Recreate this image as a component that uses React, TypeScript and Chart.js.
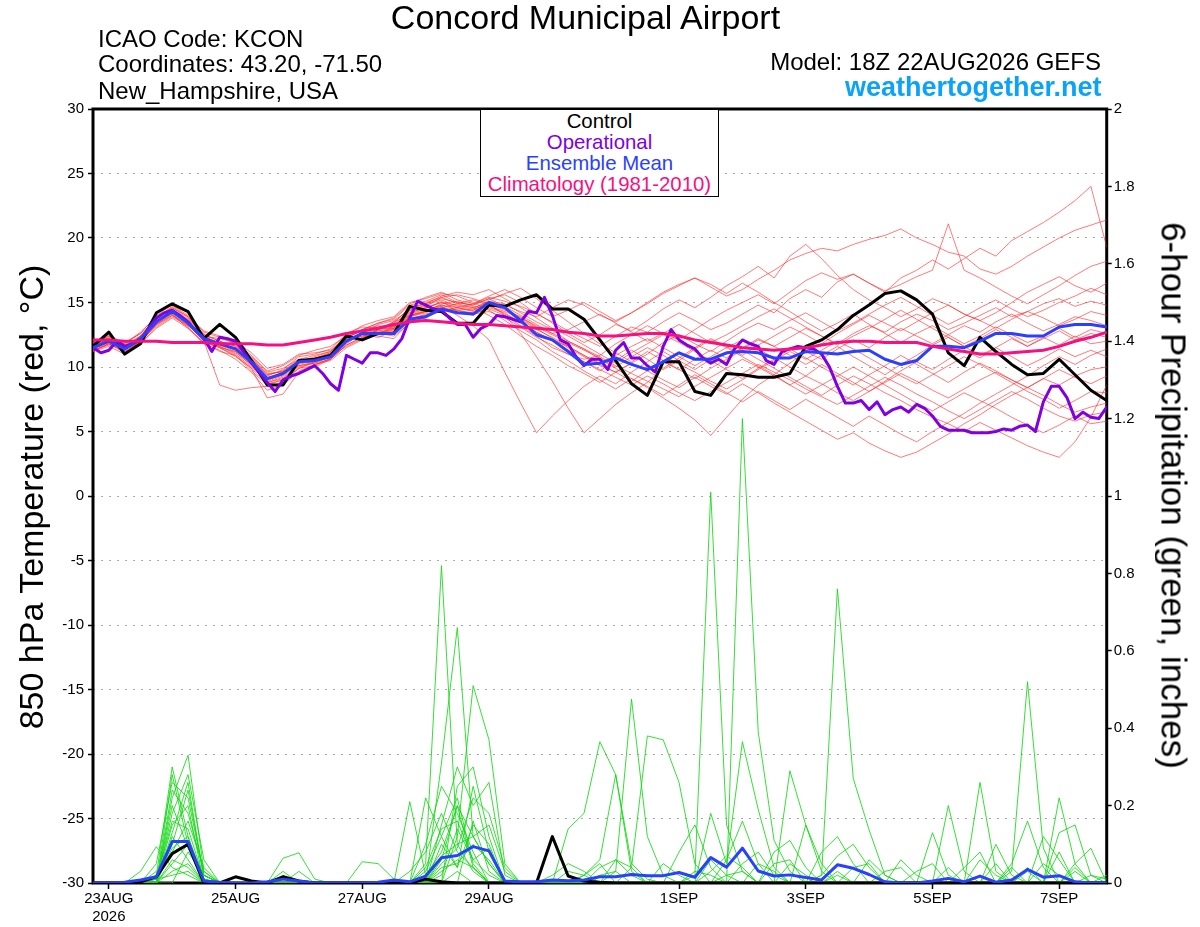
import React, { useEffect, useRef } from 'react';
import { Chart, registerables } from 'chart.js';

Chart.register(...registerables);

const FONT = "'Liberation Sans', Arial, Helvetica, sans-serif";

// ---------- axes ----------
const STEP_HOURS = 6;
const OPER_STEP_HOURS = 3;
const X_MAX_HOURS = 384;
const X_TICK_HOURS = [6, 54, 102, 150, 222, 270, 318, 366];
const X_TICK_LABELS: (string | string[])[] = [['23AUG', '2026'], '25AUG', '27AUG', '29AUG', '1SEP', '3SEP', '5SEP', '7SEP'];

// ---------- 850 hPa temperature (°C), 6-hourly ----------
const CONTROL_T = [11.6,12.7,11.0,11.8,14.2,14.9,14.3,12.2,13.3,12.3,10.5,8.6,8.6,10.5,10.6,10.9,12.4,12.1,12.6,12.6,14.7,14.4,14.3,13.4,13.4,14.8,14.7,15.2,15.6,14.5,14.5,13.7,12.1,10.5,8.7,7.8,10.4,10.4,8.1,7.8,9.5,9.4,9.2,9.2,9.5,11.6,12.1,12.9,14.0,14.8,15.7,15.9,15.2,14.1,11.1,10.1,12.3,11.2,10.2,9.4,9.5,10.6,9.4,8.2,7.4];
const MEAN_T = [11.5,12.0,11.4,12.2,13.5,14.3,13.4,12.2,11.8,11.4,10.4,9.1,9.5,10.4,10.5,10.8,12.0,12.6,12.6,12.6,13.7,13.9,14.5,14.2,14.1,15.0,14.6,13.6,12.5,12.1,11.2,10.2,10.3,10.7,10.2,9.8,10.4,11.1,10.6,10.6,11.1,11.2,11.1,10.7,10.7,11.2,11.1,11.0,11.2,11.3,10.6,10.2,10.5,11.6,11.6,11.5,12.0,12.6,12.6,12.4,12.4,13.1,13.3,13.3,13.1];
const CLIMO_T = [12.1,12.1,12.0,12.0,12.0,11.9,11.9,11.9,11.8,11.8,11.8,11.7,11.7,11.9,12.1,12.3,12.6,12.8,13.0,13.3,13.5,13.6,13.5,13.4,13.3,13.3,13.2,13.1,13.0,12.9,12.7,12.6,12.4,12.4,12.5,12.6,12.6,12.4,12.1,11.9,11.7,11.5,11.4,11.3,11.4,11.5,11.7,11.9,12.0,12.0,11.9,11.9,11.9,11.6,11.4,11.2,11.0,11.0,11.1,11.2,11.3,11.6,12.0,12.3,12.7];
// operational run, 3-hourly
const OPER_T = [11.5,11.1,11.3,12.0,11.6,11.8,12.1,13.0,13.8,14.2,14.4,14.0,13.5,12.8,12.2,11.2,12.3,12.2,12.0,11.2,10.3,9.6,8.8,8.1,9.0,9.3,9.5,9.8,10.1,9.5,8.7,8.2,10.9,10.6,10.3,11.1,11.1,10.9,11.4,12.2,13.8,15.1,14.8,14.5,14.4,13.8,13.3,13.3,12.3,13.0,13.3,14.0,13.9,13.7,13.5,14.3,14.2,15.4,14.0,12.1,11.8,10.8,10.1,10.6,10.6,9.8,11.3,11.9,10.7,10.7,10.1,9.6,11.6,12.9,12.1,11.7,11.4,10.7,10.3,10.6,10.2,11.4,12.1,11.8,11.6,10.5,10.2,11.2,11.4,11.6,11.5,11.4,11.0,10.0,8.5,7.2,7.2,7.4,6.7,7.3,6.3,6.7,6.9,6.5,7.1,6.8,6.2,5.4,5.1,5.1,5.1,4.9,4.9,4.9,5.0,5.2,5.1,5.4,5.5,5.0,7.3,8.5,8.5,7.6,6.0,6.5,6.1,6.0,6.9];

// ensemble members, 6-hourly
const MEMBER_T_01 = [11.7,12.4,11.5,12.4,13.8,14.7,13.9,12.5,12.0,11.6,10.6,9.3,9.8,10.8,11.0,11.4,12.6,13.1,13.0,13.4,14.6,14.9,15.3,15.0,14.8,15.3,15.6,15.0,14.1,13.5,12.8,12.2,11.6,12.4,13.1,12.7,13.5,14.2,13.6,12.9,13.4,14.1,14.8,14.2,15.3,16.0,15.4,16.6,17.2,16.5,15.8,16.9,17.5,18.3,17.6,18.4,19.2,18.6,19.8,20.5,21.2,22.0,22.9,24.0,19.3];
const MEMBER_T_02 = [11.3,11.8,11.2,12.0,13.2,14.0,13.1,11.9,11.5,11.2,10.1,8.8,9.2,10.1,10.4,10.9,12.2,12.9,13.2,13.1,14.2,14.6,15.0,14.8,14.6,15.0,14.8,14.3,13.9,14.6,15.2,14.8,14.0,13.5,14.2,15.0,15.8,16.4,16.9,16.2,15.5,16.0,16.8,17.5,18.3,18.8,19.2,19.0,19.5,19.9,20.2,20.7,20.0,19.5,18.9,18.6,17.6,17.2,17.8,18.6,19.3,20.0,20.6,21.0,21.4];
const MEMBER_T_03 = [11.9,12.1,11.8,12.6,13.6,14.1,13.2,12.4,12.2,11.9,10.9,9.6,9.9,10.6,10.2,10.6,11.7,12.3,12.9,13.5,14.0,14.3,14.9,15.1,14.7,14.5,14.0,13.2,12.4,11.5,11.0,10.6,10.9,11.8,12.5,13.2,12.6,12.1,12.9,13.7,14.4,15.0,15.6,14.9,15.8,16.7,17.3,16.8,17.2,16.5,15.9,16.4,17.0,17.5,21.1,17.5,16.9,16.2,15.5,14.9,15.6,16.3,17.1,17.8,18.2];
const MEMBER_T_04 = [11.2,11.6,11.0,11.9,13.3,14.2,13.6,12.0,8.6,8.2,8.4,8.5,8.8,9.9,10.1,10.7,11.9,12.7,12.4,12.2,13.5,13.8,14.4,14.6,14.9,15.4,15.1,14.7,14.2,13.4,12.6,11.9,12.5,13.3,12.8,13.6,14.5,15.2,14.6,15.4,16.3,17.0,17.8,16.9,18.6,19.5,18.4,17.1,16.0,15.2,14.6,13.9,14.5,15.3,14.8,14.1,13.6,14.2,15.0,15.8,16.4,17.0,16.3,15.8,16.5];
const MEMBER_T_05 = [11.6,12.2,11.3,12.1,13.4,14.5,13.5,12.3,11.7,11.5,10.6,9.4,9.7,10.5,10.7,11.1,12.1,12.4,12.8,13.0,14.1,14.5,15.1,14.3,14.0,14.7,14.3,13.8,13.0,12.2,11.5,10.8,10.1,9.6,10.3,11.0,11.9,12.5,11.8,11.2,12.0,12.8,13.4,12.9,13.6,14.2,13.5,12.8,13.4,14.1,14.8,15.4,14.7,14.0,13.3,13.9,14.6,15.2,14.5,13.9,14.4,15.0,15.5,16.1,15.6];
const MEMBER_T_06 = [11.4,11.9,11.6,12.3,13.7,14.4,13.3,12.1,11.9,11.3,10.2,9.0,9.4,10.3,10.6,10.9,12.0,12.5,12.3,12.8,13.9,14.2,14.7,14.0,13.2,12.1,9.6,7.2,4.9,6.2,7.4,8.5,9.3,8.7,9.6,10.4,11.2,10.5,9.8,10.6,11.0,11.4,12.1,11.6,12.3,13.0,12.4,11.8,12.6,13.2,12.7,13.5,14.1,13.6,12.9,13.4,14.0,14.6,13.9,14.3,14.9,15.3,14.7,15.1,14.8];
const MEMBER_T_07 = [11.9,12.5,11.7,12.2,13.5,14.3,13.7,12.6,11.5,10.8,9.9,7.6,7.9,9.6,10.0,10.6,11.8,12.6,13.3,13.6,14.4,14.7,15.4,15.6,15.3,14.9,14.0,12.6,10.8,8.9,6.8,4.9,6.0,7.1,8.0,8.8,9.9,10.7,11.5,12.2,11.6,10.9,11.7,12.4,13.1,12.5,11.8,12.6,13.3,14.0,13.4,12.8,13.5,14.2,14.8,14.1,13.6,13.0,13.7,14.3,13.8,13.2,13.7,14.3,14.0];
const MEMBER_T_08 = [11.5,12.0,11.1,11.8,13.1,13.9,13.2,12.2,11.6,11.0,10.0,8.9,9.3,10.2,10.5,11.0,12.3,12.8,12.5,12.9,13.8,14.0,14.3,14.5,14.4,15.1,14.9,14.2,13.5,12.9,12.0,11.4,10.6,9.9,9.1,8.4,7.6,6.8,5.9,4.7,6.1,7.5,8.6,9.4,10.3,11.2,10.6,11.4,12.1,11.5,12.3,13.0,12.4,11.8,12.5,13.2,12.7,13.5,14.1,13.4,12.8,13.3,13.9,13.6,13.2];
const MEMBER_T_09 = [11.6,11.9,11.4,12.4,13.6,14.2,13.4,12.3,11.9,11.7,10.8,9.7,10.1,10.9,11.3,11.6,12.4,12.9,13.4,13.8,14.9,15.4,15.8,15.2,14.9,15.5,16.0,15.4,14.6,13.9,14.4,15.0,14.3,13.6,14.2,14.9,15.7,16.3,16.9,16.4,15.7,16.5,15.8,15.0,14.3,13.5,12.8,13.4,14.1,13.3,12.6,11.9,12.6,13.2,12.5,11.8,12.4,13.1,12.5,11.9,12.4,13.0,12.3,12.9,12.6];
const MEMBER_T_10 = [11.3,11.7,11.5,12.1,13.3,14.1,13.0,11.8,11.3,10.6,9.6,8.2,8.6,9.7,10.2,10.5,11.5,12.1,12.6,12.4,13.4,13.9,14.6,14.9,15.2,14.8,14.1,13.5,12.7,12.0,11.3,10.4,9.7,10.5,11.3,10.6,9.8,10.5,11.4,12.1,11.5,10.8,10.1,9.4,8.6,9.3,10.2,9.5,8.8,8.1,8.9,9.7,10.4,9.8,10.6,11.3,10.7,11.5,12.2,11.6,12.3,11.7,12.4,11.8,12.0];
const MEMBER_T_11 = [11.8,12.2,11.9,12.6,14.0,14.8,14.0,12.7,12.3,11.8,10.7,9.5,9.6,10.4,10.8,11.2,12.5,13.2,13.6,13.9,15.0,15.3,15.7,15.5,15.0,14.4,13.6,12.8,12.1,11.2,10.5,9.7,9.0,8.3,9.1,8.5,7.8,8.6,9.4,8.7,8.0,7.3,8.1,7.4,6.7,7.5,6.8,6.1,5.4,6.2,5.5,4.8,4.2,5.0,5.7,6.4,7.2,7.9,8.6,9.3,10.1,10.8,10.2,10.9,11.4];
const MEMBER_T_12 = [11.5,12.1,11.3,12.3,13.5,14.4,13.6,12.4,11.8,11.4,10.3,9.1,9.5,10.4,10.5,10.9,12.0,12.7,12.5,13.2,14.3,14.8,15.2,14.7,14.5,15.2,15.7,16.1,15.3,14.4,13.5,12.6,11.8,11.1,10.4,11.2,10.5,9.8,10.6,11.3,10.7,11.5,12.2,11.6,10.9,10.2,10.9,11.6,10.8,10.1,9.4,10.2,10.9,11.7,12.3,11.6,10.9,11.5,10.8,10.1,10.7,11.4,10.8,11.3,10.8];
const MEMBER_T_13 = [11.2,11.8,11.4,11.8,13.0,13.8,13.0,11.9,11.2,10.9,9.7,8.6,9.0,10.0,10.3,10.8,11.6,12.2,12.9,13.5,14.5,15.0,15.4,14.9,14.6,14.0,13.3,12.4,11.6,10.9,10.1,9.5,8.8,9.6,10.3,9.7,9.0,8.4,9.2,8.5,7.9,8.7,8.0,7.2,6.5,5.8,5.1,4.4,4.9,4.1,3.5,3.0,3.4,4.1,4.8,5.6,6.3,7.1,7.8,8.4,9.1,8.6,9.3,9.8,10.0];
const MEMBER_T_14 = [11.7,12.3,11.8,12.7,13.9,14.6,13.9,12.8,12.4,12.0,11.1,9.9,10.2,11.0,11.1,11.3,12.3,12.8,13.1,13.3,14.4,14.9,15.5,15.8,15.6,16.0,15.3,14.6,13.8,13.0,12.4,11.7,11.0,10.3,11.1,11.8,12.5,11.9,11.2,10.5,9.8,9.1,9.9,10.6,11.4,10.7,10.0,9.3,8.6,9.4,10.1,10.9,10.2,9.5,8.8,9.6,10.3,9.7,9.0,8.4,9.1,9.8,9.2,8.7,9.3];
const MEMBER_T_15 = [11.4,11.9,11.2,12.0,13.4,14.2,13.5,12.2,11.6,11.1,10.2,8.8,9.1,10.1,10.3,10.6,11.7,12.3,12.6,13.0,14.0,14.4,14.8,14.4,14.2,14.8,14.5,13.7,12.9,12.3,11.6,10.9,10.2,9.6,8.9,9.7,10.4,9.8,9.1,9.9,10.6,11.3,10.6,9.9,9.2,8.5,7.8,8.6,9.3,8.7,8.0,7.4,6.7,6.1,5.6,5.0,5.7,5.1,4.5,3.9,3.4,3.0,4.2,6.1,8.6];
const MEMBER_T_16 = [11.6,12.0,11.4,12.2,13.6,14.3,13.3,12.1,11.7,11.2,10.3,9.0,9.4,10.3,10.7,11.0,12.2,12.4,12.7,12.9,13.9,14.3,14.8,14.6,14.3,14.9,14.4,13.9,13.1,12.5,11.9,11.3,10.7,10.0,10.8,11.5,10.9,10.2,9.6,8.9,8.3,9.0,9.8,10.5,11.2,10.6,11.3,12.0,11.4,10.7,10.0,9.3,8.7,9.4,10.1,10.8,10.2,9.5,8.8,8.1,7.5,6.8,7.4,8.1,8.0];
const MEMBER_T_17 = [11.5,12.1,11.6,12.3,13.5,14.2,13.5,12.3,11.8,11.4,10.5,9.2,9.5,10.5,10.6,11.0,12.0,12.7,13.0,13.0,14.0,14.3,14.7,14.2,14.1,14.6,14.2,13.4,12.7,12.1,11.6,10.9,10.3,10.9,11.6,12.2,11.5,10.8,10.1,10.8,11.5,12.1,11.4,10.7,10.0,9.3,8.7,8.0,7.4,8.1,8.8,9.5,8.9,8.2,7.6,8.3,9.0,9.6,9.0,8.4,7.8,7.1,6.5,6.9,7.2];
const MEMBER_T_18 = [11.3,11.8,11.1,12.0,13.3,14.0,13.3,12.0,11.5,10.9,9.9,8.7,9.0,9.9,10.4,10.8,12.1,12.6,12.8,12.7,13.7,14.1,14.5,14.4,14.1,14.3,13.8,13.1,12.3,11.7,11.0,10.4,9.8,9.2,8.6,9.3,8.7,8.0,7.4,8.1,8.8,9.5,10.2,9.6,9.0,8.3,7.7,7.1,7.8,8.5,9.2,8.6,7.9,7.3,6.6,6.0,6.7,7.4,8.1,7.5,6.8,6.2,5.8,6.3,6.5];
const MEMBER_T_19 = [11.8,12.4,11.7,12.4,13.7,14.6,13.8,12.5,12.0,11.6,10.7,9.4,9.7,10.6,10.9,11.2,12.3,12.9,13.4,13.7,14.8,15.1,15.6,15.0,14.8,15.3,14.7,14.0,13.3,12.6,12.0,11.4,10.8,10.1,9.5,8.9,8.3,7.7,8.5,9.2,9.9,10.6,10.0,9.3,8.6,7.9,8.6,9.3,10.0,9.3,8.6,7.9,7.2,6.6,7.3,8.0,7.4,6.8,6.1,5.5,4.9,5.5,6.2,5.6,5.8];
const MEMBER_T_20 = [11.6,12.2,11.5,12.3,13.5,14.3,13.4,12.2,11.8,11.3,10.4,9.1,9.6,10.5,10.6,11.1,12.1,12.6,12.9,13.1,14.2,14.6,15.0,14.6,14.4,15.0,14.6,13.8,13.2,12.6,12.9,13.5,14.1,13.4,12.7,12.0,12.6,13.3,12.6,11.9,12.5,13.2,13.9,14.5,13.8,13.1,12.4,11.7,12.4,13.0,13.7,14.4,13.7,13.0,12.3,11.6,12.2,12.9,12.3,11.6,12.2,12.8,12.1,12.6,12.3];
const MEMBERS_T = [MEMBER_T_01, MEMBER_T_02, MEMBER_T_03, MEMBER_T_04, MEMBER_T_05, MEMBER_T_06, MEMBER_T_07, MEMBER_T_08, MEMBER_T_09, MEMBER_T_10, MEMBER_T_11, MEMBER_T_12, MEMBER_T_13, MEMBER_T_14, MEMBER_T_15, MEMBER_T_16, MEMBER_T_17, MEMBER_T_18, MEMBER_T_19, MEMBER_T_20];

// ---------- 6-hour precipitation (inches) ----------
const CONTROL_P = [0,0,0,0.003,0.016,0.076,0.10,0,0,0.016,0.005,0,0.016,0.005,0,0,0,0,0,0,0,0.01,0.003,0,0,0,0,0,0,0.12,0.018,0.005,0.002,0,0,0,0,0,0,0,0,0,0,0,0,0,0,0,0,0,0,0,0,0,0,0,0,0,0,0,0,0,0,0,0];
const MEAN_P = [0,0,0.002,0.008,0.016,0.107,0.107,0.005,0.002,0,0,0.003,0.01,0.005,0,0,0,0,0.002,0.008,0.003,0.018,0.065,0.071,0.094,0.083,0.005,0.003,0.003,0.008,0.006,0.008,0.016,0.016,0.022,0.019,0.019,0.027,0.015,0.066,0.041,0.09,0.031,0.018,0.021,0.014,0.008,0.047,0.038,0.022,0.003,0,0,0.005,0.012,0.003,0.018,0.002,0.008,0.035,0.015,0.019,0.003,0,0];
// members: [6-hour step index, inches]; steps not listed had no precipitation
const MEMBER_P_01: [number, number][] = [[4,0.02],[5,0.30],[6,0.12],[7,0.01],[21,0.05],[22,0.82],[23,0.10],[24,0.03],[31,0.02],[32,0.05],[39,0.06],[40,0.02],[47,0.03],[59,0.04]];
const MEMBER_P_02: [number, number][] = [[5,0.22],[6,0.33],[7,0.03],[22,0.31],[23,0.66],[24,0.12],[25,0.05],[38,0.02],[39,1.01],[40,0.15],[41,0.03],[53,0.13],[54,0.02]];
const MEMBER_P_03: [number, number][] = [[4,0.05],[5,0.26],[6,0.22],[7,0.02],[23,0.12],[24,0.51],[25,0.37],[26,0.05],[41,1.2],[42,0.39],[43,0.11],[44,0.03],[61,0.22],[62,0.05]];
const MEMBER_P_04: [number, number][] = [[3,0.03],[4,0.094],[5,0.04],[6,0.02],[12,0.064],[13,0.078],[14,0.01],[20,0.21],[21,0.02],[22,0.08],[23,0.2],[24,0.04],[30,0.14],[31,0.18],[32,0.365],[33,0.28],[34,0.05],[35,0.01],[47,0.02],[56,0.26],[57,0.03]];
const MEMBER_P_05: [number, number][] = [[5,0.18],[6,0.28],[7,0.06],[21,0.10],[22,0.25],[23,0.18],[24,0.08],[33,0.03],[34,0.475],[35,0.12],[36,0.02],[46,0.02],[47,0.76],[48,0.27],[49,0.137],[50,0.02],[58,0.03],[59,0.52],[60,0.09]];
const MEMBER_P_06: [number, number][] = [[5,0.15],[6,0.20],[22,0.15],[23,0.30],[24,0.20],[25,0.26],[26,0.02],[34,0.04],[35,0.38],[36,0.37],[37,0.26],[38,0.05],[44,0.29],[45,0.15],[46,0.03],[54,0.20],[55,0.03]];
const MEMBER_P_07: [number, number][] = [[5,0.10],[6,0.24],[7,0.02],[17,0.055],[18,0.05],[19,0.01],[23,0.25],[24,0.30],[25,0.12],[31,0.02],[32,0.06],[33,0.28],[34,0.03],[39,0.18],[40,0.05],[41,0.365],[42,0.19],[43,0.04],[61,0.13],[62,0.15],[63,0.02]];
const MEMBER_P_08: [number, number][] = [[4,0.03],[5,0.08],[6,0.16],[7,0.04],[12,0.03],[21,0.22],[22,0.12],[23,0.04],[24,0.15],[25,0.10],[37,0.08],[38,0.15],[39,0.04],[45,0.15],[46,0.05],[57,0.10],[58,0.02]];
const MEMBER_P_09: [number, number][] = [[5,0.12],[6,0.06],[22,0.05],[23,0.09],[24,0.22],[25,0.18],[26,0.04],[29,0.02],[30,0.05],[31,0.03],[40,0.06],[41,0.16],[42,0.05],[49,0.06],[50,0.02],[60,0.12],[61,0.06]];
const MEMBER_P_10: [number, number][] = [[5,0.24],[6,0.18],[7,0.03],[22,0.02],[23,0.14],[24,0.06],[25,0.02],[43,0.08],[44,0.11],[45,0.04],[51,0.06],[52,0.02],[62,0.05],[63,0.09]];
const MEMBER_P_11: [number, number][] = [[5,0.05],[6,0.10],[7,0.02],[22,0.10],[23,0.04],[24,0.25],[25,0.08],[32,0.02],[33,0.03],[46,0.08],[47,0.12],[48,0.05],[58,0.05],[59,0.16],[60,0.04]];
const MEMBER_P_12: [number, number][] = [[6,0.08],[7,0.02],[13,0.03],[20,0.03],[21,0.08],[22,0.18],[23,0.08],[24,0.04],[41,0.05],[42,0.08],[43,0.02],[55,0.04],[56,0.08],[64,0.02]];
const MEMBER_P_13: [number, number][] = [[5,0.20],[6,0.09],[22,0.06],[23,0.20],[24,0.12],[25,0.15],[26,0.03],[36,0.05],[37,0.02],[48,0.04],[49,0.05],[60,0.05],[61,0.02]];
const MEMBER_P_14: [number, number][] = [[4,0.01],[5,0.16],[6,0.14],[7,0.01],[22,0.04],[23,0.05],[24,0.10],[25,0.06],[39,0.03],[40,0.07],[41,0.04],[52,0.03],[53,0.05],[62,0.04]];
const MEMBER_P_15: [number, number][] = [[5,0.06],[6,0.04],[21,0.03],[22,0.12],[23,0.22],[24,0.05],[33,0.06],[34,0.04],[44,0.05],[45,0.02],[56,0.06],[57,0.02]];
const MEMBER_P_16: [number, number][] = [[5,0.28],[6,0.10],[7,0.02],[24,0.16],[25,0.03],[38,0.03],[39,0.02],[46,0.02],[47,0.07],[48,0.10],[49,0.04],[61,0.08]];
const MEMBER_P_17: [number, number][] = [[5,0.03],[6,0.05],[22,0.03],[23,0.06],[24,0.04],[40,0.02],[41,0.03],[54,0.04],[59,0.03]];
const MEMBER_P_18: [number, number][] = [[5,0.13],[6,0.26],[7,0.01],[21,0.04],[22,0.14],[23,0.16],[24,0.06],[25,0.09],[43,0.05],[44,0.06],[58,0.04],[63,0.02],[64,0.01]];
const MEMBER_P_19: [number, number][] = [[4,0.01],[5,0.02],[6,0.03],[23,0.03],[30,0.03],[31,0.02],[50,0.03],[51,0.04],[62,0.03]];
const MEMBER_P_20: [number, number][] = [[5,0.09],[6,0.12],[12,0.02],[22,0.07],[23,0.10],[24,0.12],[25,0.05],[32,0.04],[33,0.06],[34,0.02],[42,0.05],[43,0.03],[57,0.05]];
const MEMBERS_P = [MEMBER_P_01, MEMBER_P_02, MEMBER_P_03, MEMBER_P_04, MEMBER_P_05, MEMBER_P_06, MEMBER_P_07, MEMBER_P_08, MEMBER_P_09, MEMBER_P_10, MEMBER_P_11, MEMBER_P_12, MEMBER_P_13, MEMBER_P_14, MEMBER_P_15, MEMBER_P_16, MEMBER_P_17, MEMBER_P_18, MEMBER_P_19, MEMBER_P_20];

// ---------- helpers ----------
const toPoints = (vals: number[], step: number) => vals.map((v, i) => ({ x: i * step, y: v }));
const expandSparse = (pairs: [number, number][]) => {
  const out = new Array(CONTROL_P.length).fill(0);
  pairs.forEach(([i, v]) => { out[i] = v; });
  return out;
};

const COLORS = {
  member: 'rgba(255,40,40,0.62)',
  memberP: 'rgba(20,215,20,0.85)',
  control: '#000000',
  oper: '#8000e0',
  mean: '#2a40ff',
  climo: '#f5117f',
  grid: '#a9a9a9',
  site: '#0ca3f7',
};

const framePlugin = {
  id: 'frame',
  beforeDatasetsDraw(chart: any) {
    const { ctx, chartArea: a } = chart;
    ctx.save();
    ctx.strokeStyle = '#000';
    ctx.lineWidth = 3;
    ctx.strokeRect(a.left, a.top, a.right - a.left, a.bottom - a.top);
    ctx.restore();
  },
};

function buildDatasets() {
  const base = { pointRadius: 0, tension: 0, fill: false, borderJoinStyle: 'round', borderCapStyle: 'round' };
  const bottomToTop: any[] = [];
  MEMBERS_T.forEach((m, k) => bottomToTop.push({ ...base, label: `T member ${k + 1}`, data: toPoints(m, STEP_HOURS), borderColor: COLORS.member, borderWidth: 1, yAxisID: 'y' }));
  MEMBERS_P.forEach((m, k) => bottomToTop.push({ ...base, label: `P member ${k + 1}`, data: toPoints(expandSparse(m), STEP_HOURS), borderColor: COLORS.memberP, borderWidth: 1, yAxisID: 'y2' }));
  bottomToTop.push({ ...base, label: 'Control', data: toPoints(CONTROL_T, STEP_HOURS), borderColor: COLORS.control, borderWidth: 3, yAxisID: 'y' });
  bottomToTop.push({ ...base, label: 'Operational', data: toPoints(OPER_T, OPER_STEP_HOURS), borderColor: COLORS.oper, borderWidth: 3, yAxisID: 'y' });
  bottomToTop.push({ ...base, label: 'Ensemble Mean', data: toPoints(MEAN_T, STEP_HOURS), borderColor: COLORS.mean, borderWidth: 3, yAxisID: 'y' });
  bottomToTop.push({ ...base, label: 'Climatology', data: toPoints(CLIMO_T, STEP_HOURS), borderColor: COLORS.climo, borderWidth: 3, yAxisID: 'y' });
  bottomToTop.push({ ...base, label: 'Control precip', data: toPoints(CONTROL_P, STEP_HOURS), borderColor: COLORS.control, borderWidth: 3, yAxisID: 'y2' });
  bottomToTop.push({ ...base, label: 'Mean precip', data: toPoints(MEAN_P, STEP_HOURS), borderColor: COLORS.mean, borderWidth: 3, yAxisID: 'y2' });
  return bottomToTop.reverse();
}

const abs = (s: React.CSSProperties): React.CSSProperties => ({ position: 'absolute', whiteSpace: 'nowrap', fontFamily: FONT, lineHeight: 1, margin: 0, ...s });
// top of a line box (line-height 1) whose baseline sits at y
const topFor = (baseline: number, size: number) => baseline - 0.8465 * size;

export default function App() {
  const canvasRef = useRef<HTMLCanvasElement | null>(null);

  useEffect(() => {
    const canvas = canvasRef.current;
    if (!canvas) return;
    const tickFont = { family: FONT, size: 15 };
    const chart = new Chart(canvas, {
      type: 'line',
      data: { datasets: buildDatasets() },
      options: {
        animation: false,
        responsive: false,
        events: [],
        layout: { padding: { top: 109, left: 0, right: 0, bottom: 0 } },
        plugins: { legend: { display: false }, tooltip: { enabled: false }, title: { display: false } },
        scales: {
          x: {
            type: 'linear',
            position: 'bottom',
            min: 0,
            max: X_MAX_HOURS,
            afterBuildTicks: (s: any) => { s.ticks = X_TICK_HOURS.map((v) => ({ value: v })); },
            afterFit: (s: any) => { s.height = 44; },
            ticks: {
              autoSkip: false,
              maxRotation: 0,
              minRotation: 0,
              padding: 1,
              color: '#000',
              font: tickFont,
              callback: (_v: any, i: number) => X_TICK_LABELS[i],
            },
            grid: { drawOnChartArea: false, drawTicks: true, tickLength: 6, tickColor: '#000', tickWidth: 1.5 },
            border: { display: false },
          },
          y: {
            type: 'linear',
            position: 'left',
            min: -30,
            max: 30,
            afterFit: (s: any) => { s.width = 93; },
            ticks: { stepSize: 5, color: '#000', padding: 4, font: tickFont },
            grid: {
              color: (c: any) => (c.tick && Math.abs(c.tick.value) === 30 ? 'rgba(0,0,0,0)' : COLORS.grid),
              lineWidth: 1,
              tickColor: '#000',
              tickLength: 5,
              tickWidth: 1.5,
              tickBorderDash: [],
            },
            border: { display: false, dash: [2, 6] },
          },
          y2: {
            type: 'linear',
            position: 'right',
            min: 0,
            max: 2,
            afterFit: (s: any) => { s.width = 93.3; },
            ticks: {
              stepSize: 0.2,
              color: '#000',
              padding: 2,
              font: tickFont,
              callback: (v: any) => String(Math.round(Number(v) * 10) / 10),
            },
            grid: { drawOnChartArea: false, tickColor: '#000', tickLength: 5, tickWidth: 1.5 },
            border: { display: false },
          },
        },
      } as any,
      plugins: [framePlugin as any],
    });
    return () => chart.destroy();
  }, []);

  return (
    <div style={{ position: 'absolute', left: 0, top: 0, width: 1200, height: 927, background: '#fff', overflow: 'hidden' }}>
      <canvas ref={canvasRef} width={1200} height={927} style={{ position: 'absolute', left: 0, top: 0, width: 1200, height: 927 }} />

      <div style={abs({ left: 0, width: 1171, textAlign: 'center', top: topFor(28.5, 34), fontSize: 34, color: '#000' })}>Concord Municipal Airport</div>

      <div style={abs({ left: 98, top: topFor(47, 24), fontSize: 24, color: '#000' })}>ICAO Code: KCON</div>
      <div style={abs({ left: 98, top: topFor(72.5, 24), fontSize: 24, color: '#000' })}>Coordinates: 43.20, -71.50</div>
      <div style={abs({ left: 98, top: topFor(99, 24), fontSize: 24, color: '#000' })}>New_Hampshire, USA</div>

      <div style={abs({ right: 1200 - 1101, top: topFor(70.7, 24), fontSize: 24, color: '#000', textAlign: 'right' })}>Model: 18Z 22AUG2026 GEFS</div>
      <div style={abs({ right: 1200 - 1101.5, top: topFor(96.7, 27), fontSize: 27, fontWeight: 'bold', color: COLORS.site, textAlign: 'right' })}>weathertogether.net</div>

      <div style={{ position: 'absolute', left: 480, top: 109, width: 239, height: 88, boxSizing: 'border-box', border: '1px solid #000', background: '#fff', fontFamily: FONT, fontSize: 20.4, lineHeight: '21.3px', textAlign: 'center', paddingTop: 0.5 }}>
        <div style={{ color: COLORS.control }}>Control</div>
        <div style={{ color: COLORS.oper }}>Operational</div>
        <div style={{ color: COLORS.mean }}>Ensemble Mean</div>
        <div style={{ color: COLORS.climo }}>Climatology (1981-2010)</div>
      </div>

      <div style={abs({ left: 30.5 - 350, top: 496.5 - 17, width: 700, height: 34, fontSize: 34, textAlign: 'center', color: '#000', transform: 'rotate(-90deg)', transformOrigin: '50% 50%' })}>850 hPa Temperature (red, °C)</div>
      <div style={abs({ left: 1174 - 350, top: 495 - 17.5, width: 700, height: 35, fontSize: 35, textAlign: 'center', color: '#000', transform: 'rotate(90deg)', transformOrigin: '50% 50%' })}>6-hour Precipitation (green, inches)</div>
    </div>
  );
}
